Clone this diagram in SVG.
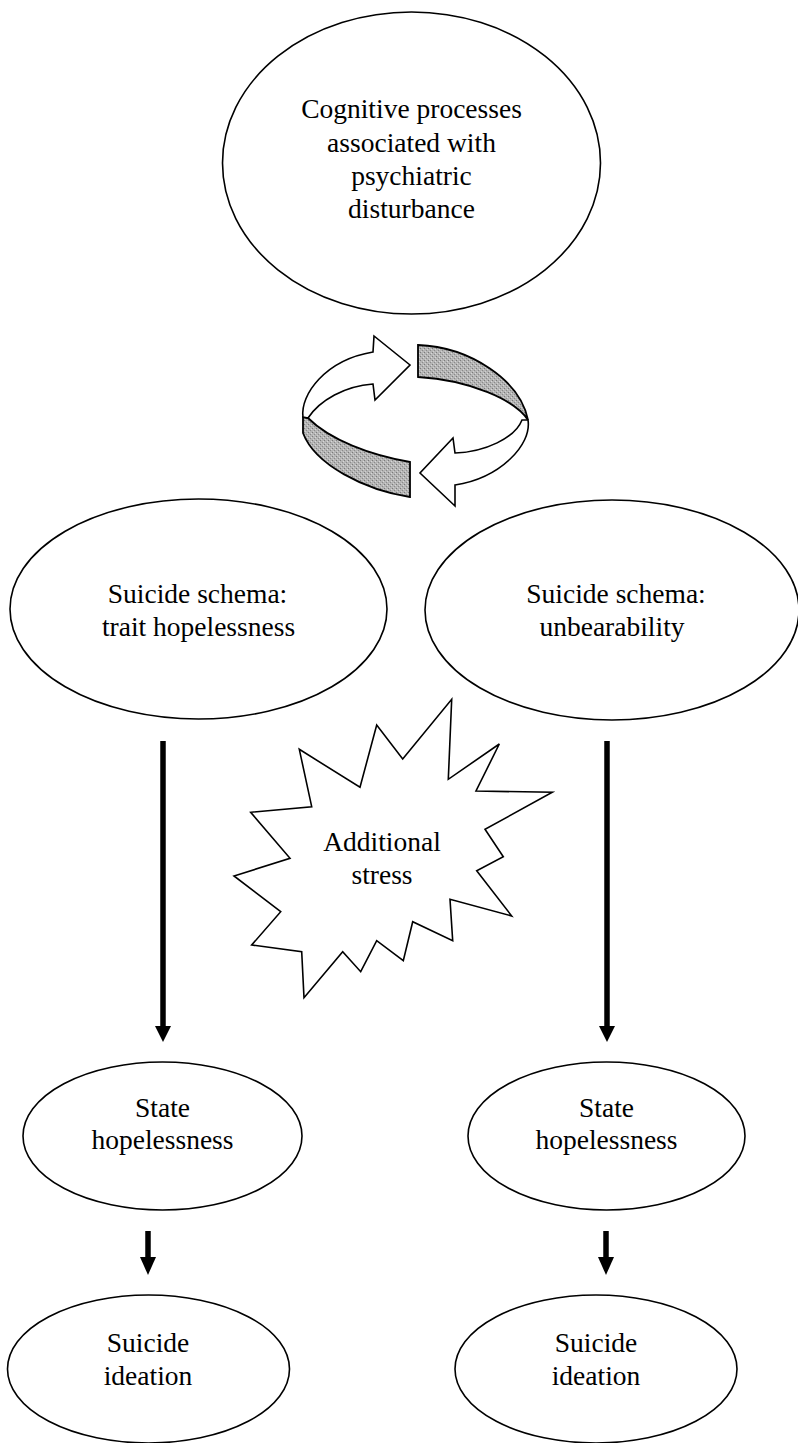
<svg xmlns="http://www.w3.org/2000/svg" width="798" height="1443" viewBox="0 0 798 1443">
  <style>
    .node { fill: #ffffff; stroke: #000000; stroke-width: 1.6; }
    .label { font-family: "Liberation Serif", "Times New Roman", serif; font-size: 27.5px; fill: #000000; text-anchor: middle; }
    .cycle-white { fill: #ffffff; stroke: #000000; stroke-width: 1.6; stroke-linejoin: miter; }
    .cycle-grey { fill: url(#stipple); stroke: #000000; stroke-width: 1.8; }
    .shaft { stroke: #000000; stroke-width: 5.5; }
    .head { fill: #000000; }
  </style>
  <defs>
    <pattern id="stipple" width="4" height="4" patternUnits="userSpaceOnUse">
      <rect width="4" height="4" fill="#b4b4b4"/>
      <rect x="0" y="0" width="1" height="1" fill="#7a7a7a"/>
      <rect x="2" y="2" width="1" height="1" fill="#8a8a8a"/>
      <rect x="3" y="1" width="1" height="1" fill="#d8d8d8"/>
      <rect x="1" y="3" width="1" height="1" fill="#d0d0d0"/>
    </pattern>
  </defs>

  <rect width="798" height="1443" fill="#ffffff"/>

  <!-- top node -->
  <g id="cognitive-processes">
    <ellipse class="node" cx="411.5" cy="163" rx="189" ry="151"/>
    <text class="label" x="411.5" y="118">Cognitive processes</text>
    <text class="label" x="411.5" y="151.5">associated with</text>
    <text class="label" x="411.5" y="185">psychiatric</text>
    <text class="label" x="411.5" y="218">disturbance</text>
  </g>

  <!-- reciprocal cycle symbol -->
  <g id="cycle">
    <path class="cycle-grey" d="M 418,345 C 470,347 520,380 528,420 C 515,400 470,380 418,377 Z"/>
    <path class="cycle-grey" d="M 303,417 L 308,418 C 330,440 370,455 410,462 L 410,497 C 365,490 315,465 303,433 Z"/>
    <path class="cycle-white" d="M 303,417 C 300,395 325,360 373,352 L 374,336 L 410,365 L 375,400 L 373,384 C 345,386 320,400 308,418 Z"/>
    <path class="cycle-white" d="M 528,420 C 532,445 500,478 455,485 L 455,506 L 420,473 L 453,438 L 455,453 C 485,452 515,438 522,420 Z"/>
  </g>

  <g id="schema-trait">
    <ellipse class="node" cx="198.5" cy="609" rx="188.5" ry="110"/>
    <text class="label" x="197.5" y="603">Suicide schema:</text>
    <text class="label" x="198.5" y="636">trait hopelessness</text>
  </g>

  <g id="schema-unbearability">
    <ellipse class="node" cx="612" cy="610" rx="187" ry="110"/>
    <text class="label" x="616" y="603">Suicide schema:</text>
    <text class="label" x="612" y="636">unbearability</text>
  </g>

  <g id="additional-stress">
    <polygon class="node" points="451.7,699.3 448.3,779.3 499.3,744 476,791 552.3,792.3 485,829.3 503.3,856.7 476.7,870.7 511.7,916 450,899.3 452.7,940.7 412.7,921.7 403.3,960.7 376.7,940.7 360.7,971.7 342.7,951.7 304,997.7 301.7,951.7 251.7,945 280.7,911.7 234,876 290,858.3 250.7,812.3 311.7,806.7 299.3,749.3 360,787.3 376.7,725 402.7,759"/>
    <text class="label" x="382" y="851">Additional</text>
    <text class="label" x="382" y="884">stress</text>
  </g>

  <g id="state-left">
    <ellipse class="node" cx="162.5" cy="1136" rx="139.5" ry="74"/>
    <text class="label" x="162.5" y="1117">State</text>
    <text class="label" x="162.5" y="1149">hopelessness</text>
  </g>

  <g id="state-right">
    <ellipse class="node" cx="606.5" cy="1136" rx="138.5" ry="74"/>
    <text class="label" x="606.5" y="1117">State</text>
    <text class="label" x="606.5" y="1149">hopelessness</text>
  </g>

  <g id="ideation-left">
    <ellipse class="node" cx="148.5" cy="1369" rx="141" ry="74"/>
    <text class="label" x="148" y="1352">Suicide</text>
    <text class="label" x="148" y="1385">ideation</text>
  </g>

  <g id="ideation-right">
    <ellipse class="node" cx="596" cy="1369" rx="141" ry="74"/>
    <text class="label" x="596" y="1352">Suicide</text>
    <text class="label" x="596" y="1385">ideation</text>
  </g>

  <!-- connectors -->
  <g id="connectors">
    <line class="shaft" x1="163" y1="741" x2="163" y2="1027"/>
    <polygon class="head" points="155,1026 171,1026 163,1042"/>
    <line class="shaft" x1="607" y1="741" x2="607" y2="1027"/>
    <polygon class="head" points="599,1026 615,1026 607,1042"/>
    <line class="shaft" x1="148" y1="1231" x2="148" y2="1258"/>
    <polygon class="head" points="140,1257 156,1257 148,1275"/>
    <line class="shaft" x1="606" y1="1231" x2="606" y2="1258"/>
    <polygon class="head" points="598,1257 614,1257 606,1275"/>
  </g>
</svg>
